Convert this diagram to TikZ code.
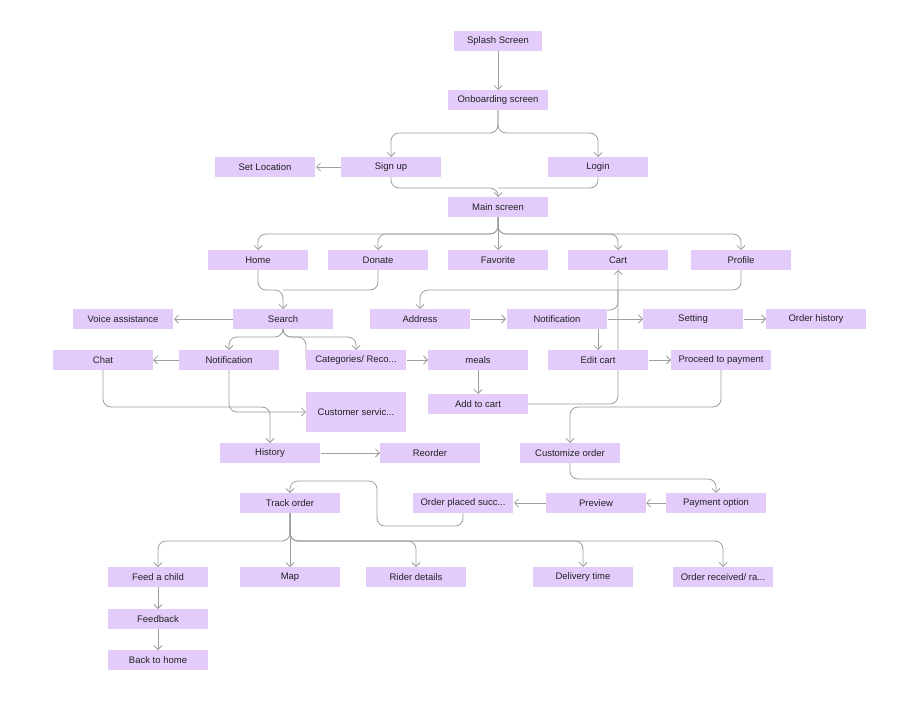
\documentclass[tikz,border=0pt]{standalone}
\usepackage{fontspec}
\setmainfont{Liberation Sans}
\usetikzlibrary{arrows.meta}
\definecolor{boxc}{HTML}{E3CCFB}
\definecolor{linec}{HTML}{9E9E9E}
\definecolor{txtc}{HTML}{222222}
\begin{document}
\begin{tikzpicture}[x=1pt,y=-1pt,
  box/.style={fill=boxc,minimum width=100pt,minimum height=20pt,inner sep=0pt,font=\fontsize{9.5}{11}\selectfont,text=txtc},
  ln/.style={draw=linec,line width=0.8pt,rounded corners=8pt},
  ar/.style={ln,-{Straight Barb[length=4pt,width=8pt]}}]
\useasboundingbox (0,0) rectangle (920,701);
\fill[white] (0,0) rectangle (920,701);
% nodes coordinates
\coordinate (splash) at (498,41);
\coordinate (onb) at (498,100);
\coordinate (signup) at (391,167);
\coordinate (login) at (598,167);
\coordinate (setloc) at (265,167);
\coordinate (main) at (498,207);
\coordinate (home) at (258,260);
\coordinate (donate) at (378,260);
\coordinate (fav) at (498,260);
\coordinate (cart) at (618,260);
\coordinate (profile) at (741,260);
\coordinate (voice) at (123,319);
\coordinate (search) at (283,319);
\coordinate (address) at (420,319);
\coordinate (notif) at (557,319);
\coordinate (setting) at (693,319);
\coordinate (ohist) at (816,319);
\coordinate (chat) at (103,360);
\coordinate (notifa) at (229,360);
\coordinate (cat) at (356,360);
\coordinate (meals) at (478,360);
\coordinate (edit) at (598,360);
\coordinate (proceed) at (721,360);
\coordinate (cserv) at (356,412);
\coordinate (addc) at (478,404);
\coordinate (hist) at (270,453);
\coordinate (reorder) at (430,453);
\coordinate (custom) at (570,453);
\coordinate (track) at (290,503);
\coordinate (placed) at (463,503);
\coordinate (preview) at (596,503);
\coordinate (payopt) at (716,503);
\coordinate (feed) at (158,577);
\coordinate (map) at (290,577);
\coordinate (rider) at (416,577);
\coordinate (deliv) at (583,577);
\coordinate (orec) at (723,577);
\coordinate (fback) at (158,619);
\coordinate (back) at (158,660);
% connectors
\draw[ar] (498,51) -- (498,90);
\draw[ar] (498,110) |- (391,133) -- (391,157);
\draw[ar] (498,110) |- (598,133) -- (598,157);
\draw[ar] (341,167) -- (316,167);
\draw[ar] (391,177) |- (498,188) -- (498,197);
\draw[ln] (598,177) |- (498,188);
\draw[ar] (498,217) |- (258,234) -- (258,250);
\draw[ar] (498,217) |- (378,234) -- (378,250);
\draw[ar] (498,217) -- (498,250);
\draw[ar] (498,217) |- (618,234) -- (618,250);
\draw[ar] (498,217) |- (741,234) -- (741,250);
\draw[ar] (258,270) |- (283,290) -- (283,309);
\draw[ln] (378,270) |- (283,290);
\draw[ar] (741,270) |- (420,290) -- (420,309);
\draw[ar] (233,319) -- (174,319);
\draw[ar] (471,319) -- (506,319);
\draw[ar] (608,319) -- (643,319);
\draw[ar] (744,319) -- (766,319);
\draw[ar] (598,329) -- (598,350);
\draw[ln] (607,310) -| (618,290);
\draw[ar] (528,404) -| (618,270);
\draw[ar] (283,329) |- (229,337) -- (229,350);
\draw[ar] (283,329) |- (356,337) -- (356,350);
\draw[ln] (283,329) |- (306,337) -- (306,360);
\draw[ar] (407,360) -- (428,360);
\draw[ar] (478,370) -- (478,394);
\draw[ar] (649,360) -- (671,360);
\draw[ar] (721,370) |- (570,407) -- (570,443);
\draw[ar] (229,360) -- (153,360);
\draw[ar] (229,360) |- (306,412);
\draw[ar] (103,370) |- (270,407) -- (270,443);
\draw[ar] (321,453) -- (380,453);
\draw[ar] (570,463) |- (716,479) -- (716,493);
\draw[ar] (666,503) -- (646,503);
\draw[ar] (546,503) -- (514,503);
\draw[ar] (463,513) |- (377,526) |- (290,481) -- (290,493);
\draw[ar] (290,513) |- (158,541) -- (158,567);
\draw[ar] (290,513) -- (290,567);
\draw[ar] (290,513) |- (416,541) -- (416,567);
\draw[ar] (290,513) |- (583,541) -- (583,567);
\draw[ar] (290,513) |- (723,541) -- (723,567);
\draw[ar] (158,587) -- (158,609);
\draw[ar] (158,629) -- (158,650);
% boxes
\node[box,minimum width=88pt] (n1) at (splash) {Splash Screen};
\node[box] (n2) at (onb) {Onboarding screen};
\node[box] (n3) at (signup) {Sign up};
\node[box] (n4) at (login) {Login};
\node[box] (n5) at (setloc) {Set Location};
\node[box] (n6) at (main) {Main screen};
\node[box] (n7) at (home) {Home};
\node[box] (n8) at (donate) {Donate};
\node[box] (n9) at (fav) {Favorite};
\node[box] (n10) at (cart) {Cart};
\node[box] (n11) at (profile) {Profile};
\node[box] (n12) at (voice) {Voice assistance};
\node[box] (n13) at (search) {Search};
\node[box] (n14) at (address) {Address};
\node[box] (n15) at (notif) {Notification};
\node[box] (n16) at (setting) {Setting};
\node[box] (n17) at (ohist) {Order history};
\node[box] (n18) at (chat) {Chat};
\node[box] (n19) at (notifa) {Notification};
\node[box] (n20) at (cat) {Categories/ Reco...};
\node[box] (n21) at (meals) {meals};
\node[box] (n22) at (edit) {Edit cart};
\node[box] (n23) at (proceed) {Proceed to payment};
\node[box,minimum height=40pt] (n24) at (cserv) {Customer servic...};
\node[box] (n25) at (addc) {Add to cart};
\node[box] (n26) at (hist) {History};
\node[box] (n27) at (reorder) {Reorder};
\node[box] (n28) at (custom) {Customize order};
\node[box] (n29) at (track) {Track order};
\node[box] (n30) at (placed) {Order placed succ...};
\node[box] (n31) at (preview) {Preview};
\node[box] (n32) at (payopt) {Payment option};
\node[box] (n33) at (feed) {Feed a child};
\node[box] (n34) at (map) {Map};
\node[box] (n35) at (rider) {Rider details};
\node[box] (n36) at (deliv) {Delivery time};
\node[box] (n37) at (orec) {Order received/ ra...};
\node[box] (n38) at (fback) {Feedback};
\node[box] (n39) at (back) {Back to home};
\end{tikzpicture}
\end{document}
